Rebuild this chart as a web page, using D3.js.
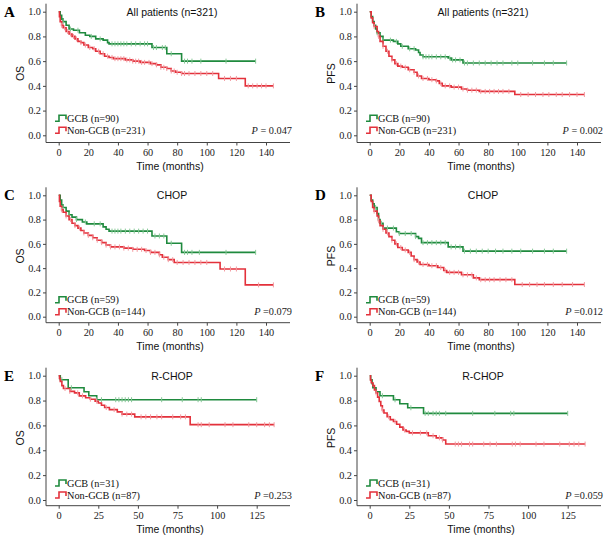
<!DOCTYPE html>
<html>
<head>
<meta charset="utf-8">
<script src="https://cdn.jsdelivr.net/npm/d3@7"></script>
<style>
  body { margin: 0; background: #fff; }
  svg { display: block; }
  .tick text { font-family: "Liberation Serif", "Times New Roman", serif; font-size: 10.3px; fill: #222; }
  .tick line { stroke: #444; }
</style>
</head>
<body>
<svg id="chart" width="609" height="540"></svg>
<script>
"use strict";

// ---- data ----
const panelLetters = ["A", "B", "C", "D", "E", "F"];
const panelTitles = ["All patients (n=321)", "All patients (n=321)", "CHOP", "CHOP", "R-CHOP", "R-CHOP"];
const yLabels = ["OS", "PFS", "OS", "PFS", "OS", "PFS"];
const gcbN = [90, 90, 59, 59, 31, 31];
const nonGcbN = [231, 231, 144, 144, 87, 87];
const pValues = ["= 0.047", "= 0.002", "=0.079", "=0.012", "=0.253", "=0.059"];
const yTicks = [0, 0.2, 0.4, 0.6, 0.8, 1.0];
const xTicksLong = [0, 20, 40, 60, 80, 100, 120, 140];
const xTicksShort = [0, 25, 50, 75, 100, 125];

// step points [months, survival]
const gcbA = [[0,1],[1,0.97],[2,0.94],[3,0.92],[5,0.89],[7,0.86],[10,0.85],[14,0.83],[18,0.81],[21,0.80],[25,0.78],[30,0.77],[33,0.75],[34,0.74],[63,0.71],[73,0.66],[83,0.60]];
const nonA = [[0,1],[0.5,0.96],[1,0.92],[2,0.89],[3,0.87],[5,0.84],[7,0.82],[9,0.80],[11,0.78],[13,0.76],[15,0.75],[17,0.73],[20,0.71],[23,0.70],[25,0.68],[28,0.66],[31,0.64],[34,0.63],[37,0.62],[45,0.61],[50,0.60],[55,0.59],[62,0.58],[66,0.57],[69,0.55],[73,0.54],[76,0.52],[79,0.51],[83,0.50],[108,0.46],[126,0.40]];
const gcbB = [[0,1],[1,0.96],[2,0.92],[3,0.89],[4,0.86],[5,0.83],[7,0.80],[9,0.77],[16,0.76],[19,0.74],[21,0.72],[26,0.70],[31,0.69],[33,0.67],[34,0.65],[36,0.635],[53,0.625],[55,0.61],[63,0.585]];
const nonB = [[0,1],[1,0.95],[2,0.91],[3,0.88],[5,0.84],[6,0.80],[7,0.76],[9,0.72],[11,0.68],[13,0.64],[15,0.61],[17,0.58],[19,0.56],[22,0.55],[26,0.53],[30,0.51],[32,0.48],[35,0.46],[40,0.45],[45,0.44],[47,0.42],[49,0.40],[55,0.39],[62,0.375],[66,0.365],[74,0.355],[98,0.33]];
const gcbC = [[0,1],[1,0.96],[2,0.92],[3,0.90],[5,0.87],[7,0.84],[9,0.82],[12,0.80],[16,0.78],[19,0.765],[30,0.74],[32,0.72],[34,0.705],[63,0.665],[73,0.605],[83,0.53]];
const nonC = [[0,1],[0.5,0.95],[1,0.91],[2,0.88],[3,0.86],[5,0.83],[7,0.80],[9,0.77],[11,0.75],[13,0.73],[15,0.71],[17,0.69],[20,0.67],[23,0.65],[26,0.63],[29,0.61],[32,0.59],[35,0.575],[44,0.565],[50,0.555],[58,0.545],[62,0.53],[68,0.51],[70,0.49],[74,0.47],[78,0.447],[109,0.393],[126,0.262]];
const gcbD = [[0,1],[1,0.96],[2,0.93],[3,0.90],[5,0.85],[6,0.80],[7,0.77],[9,0.73],[18,0.70],[20,0.685],[31,0.66],[33,0.645],[35,0.61],[53,0.575],[63,0.54]];
const nonD = [[0,1],[1,0.95],[2,0.90],[3,0.87],[5,0.83],[6,0.79],[7,0.75],[9,0.72],[11,0.69],[13,0.66],[15,0.63],[17,0.60],[19,0.57],[22,0.55],[26,0.53],[28,0.50],[30,0.47],[32,0.45],[34,0.43],[40,0.42],[46,0.405],[50,0.38],[52,0.365],[62,0.345],[70,0.32],[74,0.305],[98,0.265]];
const gcbE = [[0,1],[1,0.968],[6,0.903],[16,0.871],[19,0.839],[24,0.807]];
const nonE = [[0,1],[0.5,0.977],[1,0.954],[2,0.92],[3,0.897],[7,0.874],[10,0.862],[13,0.838],[17,0.823],[20,0.811],[23,0.795],[25,0.78],[27,0.762],[29,0.744],[32,0.727],[37,0.709],[40,0.691],[48,0.669],[83,0.606]];
const gcbF = [[0,1],[0.6,0.968],[1.5,0.935],[2,0.903],[4,0.871],[6.5,0.839],[15,0.806],[19,0.774],[24,0.742],[34,0.697]];
const nonF = [[0,1],[0.5,0.966],[1,0.943],[2,0.92],[3,0.885],[4,0.862],[5,0.828],[6,0.793],[7,0.758],[8,0.724],[9,0.70],[11,0.67],[13,0.647],[15,0.632],[17,0.609],[19,0.586],[21,0.563],[23,0.552],[25,0.54],[37,0.517],[42,0.50],[46,0.483],[48,0.45]];

// last follow-up time of each curve
const gcbEnd = [133, 133, 133, 133, 125, 125];
const nonEnd = [145, 145, 145, 145, 136, 136];

// censored times
const gcbCensA = [3,8,13,22,28,36,38,40,42,44,46,49,52,55,58,60,64,66,70,72,76,85,87,90,96,113,133];
const nonCensA = [2,4,6,8,10,12,15,18,21,24,27,30,33,36,38,40,42,44,46,48,50,52,54,56,58,61,63,66,69,71,73,76,78,80,83,85,88,92,96,100,104,112,116,120,128,131,134,137,140,145];
const gcbCensB = [5,9,14,18,22,27,30,36,38,40,42,45,48,51,54,56,58,61,64,66,70,74,78,82,86,90,96,100,110,118,124,133];
const nonCensB = [3,6,9,12,15,18,21,24,27,30,33,36,39,42,45,48,51,54,57,60,63,66,69,72,75,78,81,84,87,90,94,102,107,112,117,121,126,130,135,140,145];
const gcbCensC = [3,7,12,18,24,28,36,38,40,42,45,48,51,54,57,60,65,68,71,76,85,87,90,95,113,133];
const nonCensC = [2,5,8,11,14,17,20,23,26,29,32,35,38,41,44,47,50,53,56,59,62,65,68,71,74,77,80,84,88,92,96,100,112,116,120,135,145];
const gcbCensD = [4,8,12,16,20,24,28,31,36,39,42,45,48,51,55,58,61,64,68,72,76,80,85,90,96,102,110,118,124,133];
const nonCensD = [3,6,9,12,15,18,21,24,27,30,33,36,39,42,45,48,51,54,57,60,63,66,69,72,75,78,81,84,88,92,96,103,108,113,118,124,130,137,145];
const gcbCensE = [2,8,24,27,36,38,40,42,44,46,65,78,88,90,125];
const nonCensE = [4,7,12,15,20,24,30,35,40,43,46,52,55,58,62,65,72,77,80,88,90,95,105,110,120,125,130,133,136];
const gcbCensF = [3,8,16,26,35,37,40,42,44,48,65,79,89,91,125];
const nonCensF = [4,8,12,16,22,27,32,36,40,44,46,54,56,58,63,65,72,76,80,90,92,95,105,110,120,126,129,132,136];

const gcbSteps = [gcbA, gcbB, gcbC, gcbD, gcbE, gcbF];
const nonSteps = [nonA, nonB, nonC, nonD, nonE, nonF];
const gcbCens = [gcbCensA, gcbCensB, gcbCensC, gcbCensD, gcbCensE, gcbCensF];
const nonCens = [nonCensA, nonCensB, nonCensC, nonCensD, nonCensE, nonCensF];

// ---- layout ----
const colX = [0, 311];
const rows = [
  { top: 11.7, bot: 135.3, axisY: 142.5, xMax: 140, xPx: 207.3, ticks: xTicksLong },
  { top: 195.3, bot: 316.7, axisY: 322.7, xMax: 140, xPx: 207.3, ticks: xTicksLong },
  { top: 375.7, bot: 500, axisY: 505.7, xMax: 125, xPx: 198, ticks: xTicksShort },
];
const green = "#1f8a3e", greenLight = "#86c896";
const red = "#e3313b", redLight = "#f39aa0";
const serif = "'Liberation Serif', 'Times New Roman', serif";
const sans = "'Liberation Sans', Arial, sans-serif";

const svg = d3.select("#chart");
svg.append("rect").attr("width", 609).attr("height", 540).attr("fill", "#fff");

function survivalAt(steps, t) {
  let s = steps[0][1];
  for (const p of steps) {
    if (p[0] <= t) s = p[1];
  }
  return s;
}

function drawCurve(g, x, y, steps, end, cens, color, light) {
  const pts = steps.concat([[end, steps[steps.length - 1][1]]]);
  const line = d3.line().x((d) => x(d[0])).y((d) => y(d[1])).curve(d3.curveStepAfter);
  g.append("path")
    .attr("d", line(pts))
    .attr("fill", "none")
    .attr("stroke", color)
    .attr("stroke-width", 1.6);
  g.selectAll(null)
    .data(cens)
    .enter()
    .append("line")
    .attr("x1", (d) => x(d))
    .attr("x2", (d) => x(d))
    .attr("y1", (d) => y(survivalAt(steps, d)) - 2.5)
    .attr("y2", (d) => y(survivalAt(steps, d)) + 2.5)
    .attr("stroke", light)
    .attr("stroke-width", 1);
}

function legendSymbol(g, x0, yc, color) {
  g.append("path")
    .attr("d", `M${x0},${yc + 3}H${x0 + 4}V${yc - 3}H${x0 + 11}V${yc + 1}`)
    .attr("fill", "none")
    .attr("stroke", color)
    .attr("stroke-width", 1.6);
}

for (let i = 0; i < 6; i++) {
  const row = rows[Math.floor(i / 2)];
  const ox = colX[i % 2];
  const axisX = ox + 46;
  const x0 = ox + 58.7;
  const g = svg.append("g");

  const x = d3.scaleLinear().domain([0, row.xMax]).range([x0, x0 + row.xPx]);
  const y = d3.scaleLinear().domain([0, 1]).range([row.bot, row.top]);

  // axes
  const ya = g.append("g")
    .attr("transform", `translate(${axisX},0)`)
    .call(d3.axisLeft(y).tickValues(yTicks).tickFormat(d3.format(".1f")).tickSize(3).tickPadding(2));
  ya.select(".domain").remove();
  const xa = g.append("g")
    .attr("transform", `translate(0,${row.axisY})`)
    .call(d3.axisBottom(x).tickValues(row.ticks).tickFormat(d3.format("d")).tickSize(3).tickPadding(3));
  xa.select(".domain").remove();
  g.append("line")
    .attr("x1", axisX).attr("x2", axisX)
    .attr("y1", row.top - 8).attr("y2", row.axisY)
    .attr("stroke", "#444");
  g.append("line")
    .attr("x1", axisX).attr("x2", ox + 290)
    .attr("y1", row.axisY).attr("y2", row.axisY)
    .attr("stroke", "#444");

  // curves
  drawCurve(g, x, y, gcbSteps[i], gcbEnd[i], gcbCens[i], green, greenLight);
  drawCurve(g, x, y, nonSteps[i], nonEnd[i], nonCens[i], red, redLight);

  // texts
  g.append("text")
    .attr("x", ox + 4).attr("y", row.top + 5)
    .attr("font-family", serif).attr("font-weight", "bold").attr("font-size", 15)
    .text(panelLetters[i]);
  g.append("text")
    .attr("x", ox + 172).attr("y", row.top + 4)
    .attr("text-anchor", "middle")
    .attr("font-family", sans).attr("font-size", 10.5).attr("fill", "#111")
    .text(panelTitles[i]);
  g.append("text")
    .attr("x", ox + 170).attr("y", row.axisY + 27)
    .attr("text-anchor", "middle")
    .attr("font-family", sans).attr("font-size", 10.5).attr("fill", "#111")
    .text("Time (months)");
  g.append("text")
    .attr("transform", `translate(${axisX - 22},${(row.top + row.bot) / 2}) rotate(-90)`)
    .attr("text-anchor", "middle")
    .attr("font-family", sans).attr("font-size", 10.5).attr("fill", "#111")
    .text(yLabels[i]);

  // legend
  const lx = axisX + 9;
  const gy = row.bot - 17;
  const ry = row.bot - 5;
  legendSymbol(g, lx, gy, green);
  legendSymbol(g, lx, ry, red);
  g.append("text")
    .attr("x", lx + 12).attr("y", gy + 3.5)
    .attr("font-family", serif).attr("font-size", 10.3).attr("fill", "#111")
    .text(`GCB (n=${gcbN[i]})`);
  g.append("text")
    .attr("x", lx + 12).attr("y", ry + 3.5)
    .attr("font-family", serif).attr("font-size", 10.3).attr("fill", "#111")
    .text(`Non-GCB (n=${nonGcbN[i]})`);

  // p value
  const pt = g.append("text")
    .attr("x", ox + 292).attr("y", row.bot - 1.5)
    .attr("text-anchor", "end")
    .attr("font-family", serif).attr("font-size", 10.3).attr("fill", "#222");
  pt.append("tspan").attr("font-style", "italic").text("P");
  pt.append("tspan").text(" " + pValues[i]);
}
</script>
</body>
</html>
